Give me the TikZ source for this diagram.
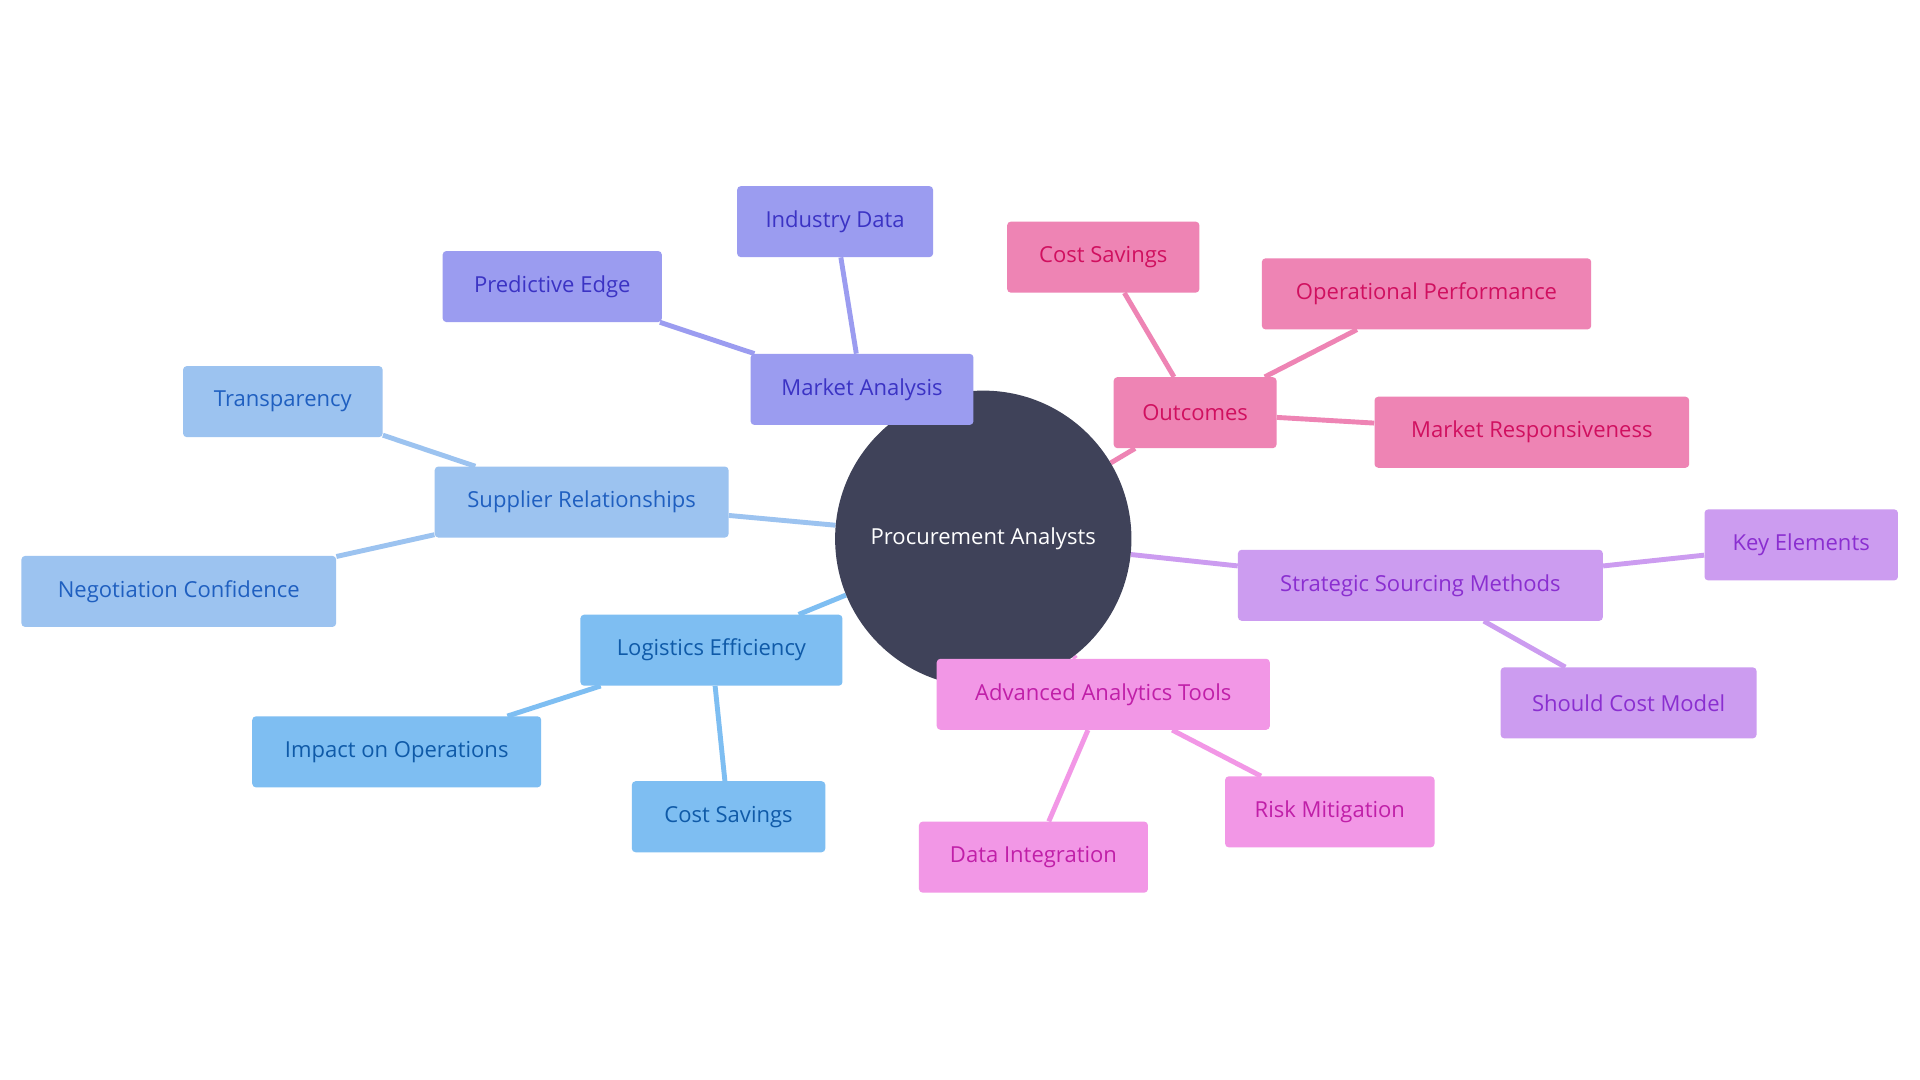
\documentclass[tikz,border=0pt]{standalone}
\usepackage{fontspec}
\setmainfont{Open Sans}
\usetikzlibrary{backgrounds}
\definecolor{cen}{HTML}{3F4259}
\definecolor{maF}{HTML}{9B9CF0}\definecolor{maT}{HTML}{3B33C4}\definecolor{maB}{HTML}{D4C82A}
\definecolor{srF}{HTML}{9CC3F0}\definecolor{srT}{HTML}{1F5FC0}\definecolor{orB}{HTML}{E0802A}
\definecolor{leF}{HTML}{7EBEF2}\definecolor{leT}{HTML}{0F5AA8}
\definecolor{ouF}{HTML}{EE84B4}\definecolor{ouT}{HTML}{D0105F}\definecolor{ouB}{HTML}{2ED18A}
\definecolor{ssF}{HTML}{CC9CF0}\definecolor{ssT}{HTML}{8A2ED0}\definecolor{ssB}{HTML}{6CCC2E}
\definecolor{atF}{HTML}{F297E6}\definecolor{atT}{HTML}{C01FA8}\definecolor{atB}{HTML}{2ED14A}
\tikzset{
 box/.style n args={4}{draw=none,fill=#1,text=#2,rounded corners=3pt,minimum height=58pt,minimum width=#4,inner sep=0pt,
   font=\fontsize{18}{20}\selectfont,
   append after command={\pgfextra{\let\ln\tikzlastnode}
     [draw=#3,line width=4pt] ([xshift=0pt,yshift=2pt]\ln.south west) -- ([yshift=2pt]\ln.south east)}},
 ed/.style={line width=4pt,draw=#1}
}
\begin{document}
\begin{tikzpicture}[x=1pt,y=-1pt]
\useasboundingbox (0,0) rectangle (1568,882);
\node[circle,fill=cen,minimum size=242pt,inner sep=0pt,text=white,font=\fontsize{18}{20}\selectfont] (c) at (803,440) {Procurement Analysts};
\node[box={maF}{maT}{maB}{182pt}] (ma) at (704,318) {Market Analysis};
\node[box={maF}{maT}{maB}{160pt}] (id) at (682,181) {Industry Data};
\node[box={maF}{maT}{maB}{179pt}] (pe) at (451,234) {Predictive Edge};
\node[box={srF}{srT}{orB}{240pt}] (sr) at (475,410) {Supplier Relationships};
\node[box={srF}{srT}{orB}{163pt}] (tr) at (231,328) {Transparency};
\node[box={srF}{srT}{orB}{257pt}] (nc) at (146,483) {Negotiation Confidence};
\node[box={leF}{leT}{orB}{214pt}] (le) at (581,531) {Logistics Efficiency};
\node[box={leF}{leT}{orB}{236pt}] (io) at (324,614) {Impact on Operations};
\node[box={leF}{leT}{orB}{158pt}] (cs1) at (595,667) {Cost Savings};
\node[box={ouF}{ouT}{ouB}{133pt}] (ou) at (976,337) {Outcomes};
\node[box={ouF}{ouT}{ouB}{157pt}] (cs2) at (901,210) {Cost Savings};
\node[box={ouF}{ouT}{ouB}{269pt}] (op) at (1165,240) {Operational Performance};
\node[box={ouF}{ouT}{ouB}{257pt}] (mr) at (1251,353) {Market Responsiveness};
\node[box={ssF}{ssT}{ssB}{298pt}] (ss) at (1160,478) {Strategic Sourcing Methods};
\node[box={ssF}{ssT}{ssB}{158pt}] (ke) at (1471,445) {Key Elements};
\node[box={ssF}{ssT}{ssB}{209pt}] (sc) at (1330,574) {Should Cost Model};
\node[box={atF}{atT}{atB}{272pt}] (at) at (901,567) {Advanced Analytics Tools};
\node[box={atF}{atT}{atB}{187pt}] (di) at (844,700) {Data Integration};
\node[box={atF}{atT}{atB}{171pt}] (rm) at (1086,663) {Risk Mitigation};
\begin{scope}[on background layer]
\fill[white] (0,0) rectangle (1568,882);
\draw[ed=maF] (c) -- (ma); \draw[ed=maF] (ma) -- (id); \draw[ed=maF] (ma) -- (pe);
\draw[ed=srF] (c) -- (sr); \draw[ed=srF] (sr) -- (tr); \draw[ed=srF] (sr) -- (nc);
\draw[ed=leF] (c) -- (le); \draw[ed=leF] (le) -- (io); \draw[ed=leF] (le) -- (cs1);
\draw[ed=ouF] (c) -- (ou); \draw[ed=ouF] (ou) -- (cs2); \draw[ed=ouF] (ou) -- (op); \draw[ed=ouF] (ou) -- (mr);
\draw[ed=ssF] (c) -- (ss); \draw[ed=ssF] (ss) -- (ke); \draw[ed=ssF] (ss) -- (sc);
\draw[ed=atF] (c) -- (at); \draw[ed=atF] (at) -- (di); \draw[ed=atF] (at) -- (rm);
\end{scope}
\end{tikzpicture}
\end{document}
